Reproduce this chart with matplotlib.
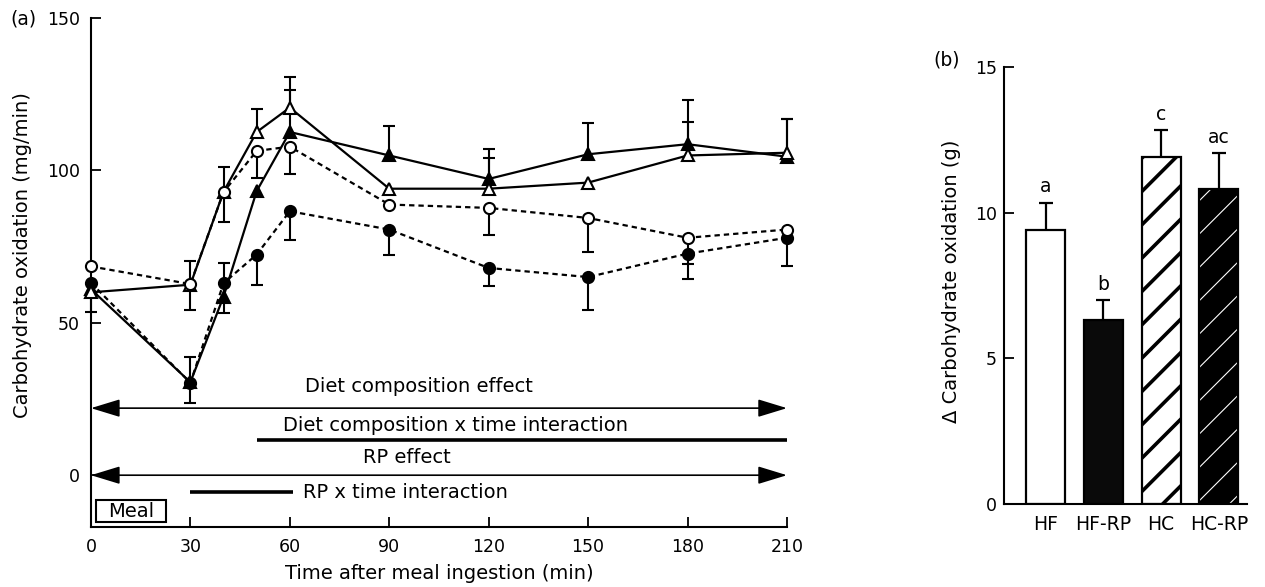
import matplotlib
matplotlib.use('Agg')
import matplotlib.pyplot as plt
from matplotlib.patches import Rectangle
import numpy as np

plt.rcParams['font.family'] = ['DejaVu Sans']
FS = 14       # general text
FT = 12.5     # tick labels

# ---------------- data: panel (a) ----------------
time_min = [0, 30, 40, 50, 60, 90, 120, 150, 180, 210]

# open circles, dashed
hf = [68.5, 62.7, 92.9, 106.4, 107.8, 88.8, 87.7, 84.4, 77.9, 80.6]
hf_err_down = [0, 8.4, 9.9, 8.8, 9.1, 0, 8.8, 11.3, 8.5, 0]
# filled circles, dashed
hf_rp = [63.1, 30.3, 63.0, 72.4, 86.6, 80.6, 68.0, 65.0, 72.7, 77.9]
hf_rp_err_down = [0, 6.6, 9.7, 9.9, 9.3, 8.2, 5.8, 10.7, 8.3, 9.4]
# open triangles, solid
hc = [60.0, 62.5, 93.0, 112.6, 120.6, 94.0, 94.0, 96.0, 104.9, 105.8]
hc_err_up = [0, 7.7, 8.2, 7.7, 9.9, 0, 10.2, 0, 11.0, 11.0]
hc_err_down = [6.3, 0, 0, 0, 0, 0, 0, 0, 0, 0]
# filled triangles, solid
hc_rp = [61.0, 30.5, 58.6, 93.2, 112.6, 104.9, 97.2, 105.3, 108.6, 104.5]
hc_rp_err_up = [0, 8.4, 11.1, 0, 13.8, 9.7, 9.9, 10.4, 14.5, 12.3]

x_ticks = [0, 30, 60, 90, 120, 150, 180, 210]
y_ticks_a = [0, 50, 100, 150]

# significance annotations
effect_labels = ['Diet composition effect', 'Diet composition x time interaction',
                 'RP effect', 'RP x time interaction']
effect_start = [0, 50, 0, 30]
effect_end = [210, 210, 210, 61]
effect_kind = ['arrow', 'bar', 'arrow', 'bar']

# ---------------- data: panel (b) ----------------
groups = ['HF', 'HF-RP', 'HC', 'HC-RP']
delta_cho = [9.39, 6.33, 11.9, 10.82]
delta_err = [0.95, 0.67, 0.92, 1.22]
sig_letters = ['a', 'b', 'c', 'ac']
y_ticks_b = [0, 5, 10, 15]

# ---------------- figure ----------------
fig = plt.figure(figsize=(12.65, 5.87), dpi=100)

ax = fig.add_axes([0.0719, 0.1022, 0.5502, 0.8671])
ax.set_xlim(0, 210)
ax.set_ylim(-17, 150)
for s in ['top', 'right']:
    ax.spines[s].set_visible(False)
for s in ['left', 'bottom']:
    ax.spines[s].set_linewidth(1.5)
ax.set_xticks(x_ticks)
ax.set_yticks(y_ticks_a)
ax.tick_params(direction='in', length=7, width=1.3, labelsize=FT)
ax.tick_params(axis='x', pad=8)
ax.tick_params(axis='y', pad=8)
ax.set_xlabel('Time after meal ingestion (min)', fontsize=FS, labelpad=6)
ax.set_ylabel('Carbohydrate oxidation (mg/min)', fontsize=FS)
ax.yaxis.set_label_coords(-0.084, 0.534)


def err_up(xs, ys, es):
    for x, y, e in zip(xs, ys, es):
        if e > 0:
            ax.vlines(x, y, y + e, color='black', lw=1.5, zorder=2.5, clip_on=False)
            ax.plot([x], [y + e], marker='_', ms=9, mew=1.5, color='black',
                    ls='none', zorder=2.5, clip_on=False)


def err_down(xs, ys, es):
    for x, y, e in zip(xs, ys, es):
        if e > 0:
            ax.vlines(x, y - e, y, color='black', lw=1.5, zorder=2.5, clip_on=False)
            ax.plot([x], [y - e], marker='_', ms=9, mew=1.5, color='black',
                    ls='none', zorder=2.5, clip_on=False)


dash = (0, (2.4, 1.8))
series = [
    (hc_rp, '-', '^', 'black'),
    (hf_rp, dash, 'o', 'black'),
    (hc, '-', '^', 'white'),
    (hf, dash, 'o', 'white'),
]
for vals, ls, mk, fc in series:
    ax.plot(time_min, vals, color='black', lw=1.6, ls=ls, zorder=2, clip_on=False)

err_up(time_min, hc_rp, hc_rp_err_up)
err_up(time_min, hc, hc_err_up)
err_down(time_min, hc, hc_err_down)
err_down(time_min, hf_rp, hf_rp_err_down)
err_down(time_min, hf, hf_err_down)

for vals, ls, mk, fc in series:
    ax.plot(time_min, vals, ls='none', marker=mk, ms=8.5 if mk == '^' else 8,
            mfc=fc, mec='black', mew=1.5, zorder=4, clip_on=False)

# effect annotations
effect_y_line = [22, 11.5, 0, -5.5]
effect_text_xy = [(99, 29), (110, 16.4), (95.4, 5.9), (64, -5.6)]
effect_ha = ['center', 'center', 'center', 'left']
for lab, x0, x1, kind, yl, (tx, ty), ha in zip(effect_labels, effect_start, effect_end,
                                               effect_kind, effect_y_line, effect_text_xy,
                                               effect_ha):
    if kind == 'arrow':
        ax.annotate('', xy=(x0, yl), xytext=(x1, yl), annotation_clip=False,
                    arrowprops=dict(arrowstyle='<|-|>,head_length=1.8,head_width=0.55',
                                    color='black', lw=1.2, shrinkA=0, shrinkB=0,
                                    mutation_scale=10))
    else:
        ax.plot([x0, x1], [yl, yl], color='black', lw=2.6, solid_capstyle='butt',
                clip_on=False)
    ax.text(tx, ty, lab, ha=ha, va='center', fontsize=FS)

# meal box
ax.add_patch(Rectangle((1.5, -15.5), 21.0, 7.3, fill=False, lw=1.5, ec='black',
                       clip_on=False))
ax.text(12.0, -11.9, 'Meal', ha='center', va='center', fontsize=FS)

fig.text(0.0085, 0.9675, '(a)', fontsize=13.5, ha='left', va='center')

# ---------------- panel (b) ----------------
ax2 = fig.add_axes([0.7937, 0.1409, 0.1921, 0.7455])
xpos = np.arange(len(groups))
ax2.set_xlim(-0.72, 3.49)
ax2.set_ylim(0, 15)
for s in ['top', 'right']:
    ax2.spines[s].set_visible(False)
for s in ['left', 'bottom']:
    ax2.spines[s].set_linewidth(1.5)
ax2.set_yticks(y_ticks_b)
ax2.set_xticks(xpos)
ax2.set_xticklabels(groups)
ax2.tick_params(direction='in', length=7, width=1.3, labelsize=FT)
ax2.tick_params(axis='x', length=0, pad=8, labelsize=13.5)
ax2.tick_params(axis='y', pad=5)
ax2.set_ylabel('\u0394 Carbohydrate oxidation (g)', fontsize=FS)
ax2.yaxis.set_label_coords(-0.177, 0.509)

W = 0.676
face = ['white', '#0a0a0a', 'white', 'black']
hatch = [None, None, '/', '/']
hatch_col = ['black', 'black', 'black', 'white']
hatch_lw = [1, 1, 2.6, 0.8]
for i in range(len(groups)):
    b = ax2.bar(xpos[i], delta_cho[i], width=W, color=face[i], edgecolor=hatch_col[i],
                hatch=hatch[i], linewidth=0, zorder=2)
    for p in b:
        if hasattr(p, 'set_hatch_linewidth'):
            p.set_hatch_linewidth(hatch_lw[i])
    ax2.bar(xpos[i], delta_cho[i], width=W, fill=False, edgecolor='black',
            linewidth=1.6, zorder=3)
    top = delta_cho[i] + delta_err[i]
    ax2.vlines(xpos[i], delta_cho[i], top, color='black', lw=1.6, zorder=1)
    ax2.plot([xpos[i]], [top], marker='_', ms=10, mew=1.6, color='black', ls='none')
    ax2.text(xpos[i], top + 0.35, sig_letters[i], ha='center', va='baseline', fontsize=13.5)

fig.text(0.738, 0.898, '(b)', fontsize=13.5, ha='left', va='center')

fig.savefig('out.png', dpi=100)
